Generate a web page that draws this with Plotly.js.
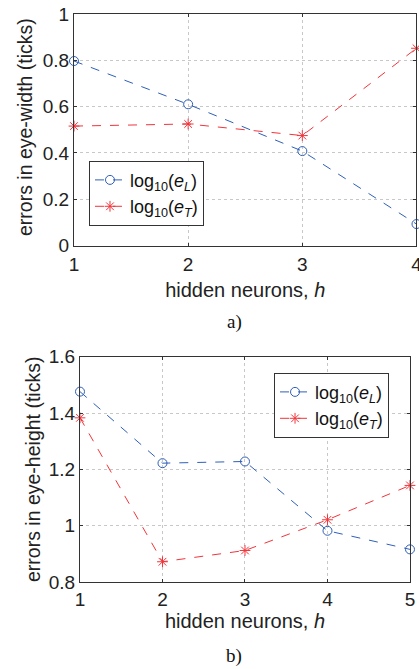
<!DOCTYPE html>
<html><head><meta charset="utf-8">
<script src="https://cdn.plot.ly/plotly-3.0.1.min.js"></script>
<style>html,body{margin:0;padding:0;background:#fff}#plot{width:419px;height:669px}</style>
</head><body><div id="plot"></div>
<script>
// Panel a) eye-width
const hA = [1, 2, 3, 4];
const eL_A = [0.797, 0.610, 0.408, 0.093];
const eT_A = [0.516, 0.525, 0.475, 0.852];
// Panel b) eye-height
const hB = [1, 2, 3, 4, 5];
const eL_B = [1.476, 1.222, 1.228, 0.982, 0.916];
const eT_B = [1.383, 0.872, 0.912, 1.021, 1.143];
const nameL = 'log<sub>10</sub>(<i>e<sub>L</sub></i>)';
const nameT = 'log<sub>10</sub>(<i>e<sub>T</sub></i>)';
const tickA_y = [0, 0.2, 0.4, 0.6, 0.8, 1];
const tickA_yText = ['0', '0.2', '0.4', '0.6', '0.8', '1'];
const tickB_y = [0.8, 1, 1.2, 1.4, 1.6];
const tickB_yText = ['0.8', '1', '1.2', '1.4', '1.6'];
const yTitleA = 'errors in eye-width (ticks)';
const yTitleB = 'errors in eye-height (ticks)';
const xTitle = 'hidden neurons, <i>h</i>';

const blue = '#2f5fb8', red = '#f0343a';
const font = 'Liberation Sans, Arial, sans-serif';

function tr(x, y, name, color, sym, xa, ya, leg) {
  return {x: x, y: y, name: name, type: 'scatter', mode: 'lines+markers',
    xaxis: xa, yaxis: ya, legend: leg,
    line: {color: color, width: 1, dash: 'dash'},
    marker: {symbol: sym, size: 9, color: color, line: {color: color, width: 1}},
    cliponaxis: false};
}
const data = [
  tr(hA, eL_A, nameL, blue, 'circle-open', 'x', 'y', 'legend'),
  tr(hA, eT_A, nameT, red, 'asterisk-open', 'x', 'y', 'legend'),
  tr(hB, eL_B, nameL, blue, 'circle-open', 'x2', 'y2', 'legend2'),
  tr(hB, eT_B, nameT, red, 'asterisk-open', 'x2', 'y2', 'legend2')
];
function ax(extra) {
  return Object.assign({
    showline: true, linecolor: '#333', linewidth: 1, mirror: 'ticks',
    ticks: 'inside', ticklen: 3, tickcolor: '#333',
    showgrid: true, gridcolor: '#c8c8c8', griddash: 'dot', gridwidth: 1,
    zeroline: false, ticklabeloverflow: 'allow',
    tickfont: {family: font, size: 19, color: '#222'}
  }, extra);
}
const xTitleFont = {family: font, size: 20, color: '#222'};
const yTitleFont = {family: font, size: 19.5, color: '#222'};
const layout = {
  width: 419, height: 669, margin: {l: 0, r: 0, t: 0, b: 0},
  paper_bgcolor: '#fff', plot_bgcolor: '#fff', showlegend: true,
  xaxis: ax({domain: [0.1766, 0.994], range: [1, 4], tickvals: hA, anchor: 'y', ticklabelstandoff: 2,
    title: {text: xTitle, font: xTitleFont, standoff: 8}}),
  yaxis: ax({domain: [0.6329, 0.9791], range: [0, 1], tickvals: tickA_y, ticktext: tickA_yText, anchor: 'x'}),
  xaxis2: ax({domain: [0.1909, 0.9785], range: [1, 5], tickvals: hB, anchor: 'y2', ticklabelstandoff: 0,
    title: {text: xTitle, font: xTitleFont, standoff: 4}}),
  yaxis2: ax({domain: [0.1300, 0.4668], range: [0.8, 1.6], tickvals: tickB_y, ticktext: tickB_yText, anchor: 'x2'}),
  legend: {x: 0.2124, y: 0.7598, xanchor: 'left', yanchor: 'top', bgcolor: '#fff',
    bordercolor: '#333', borderwidth: 1, font: {family: font, size: 18, color: '#111'}},
  legend2: {x: 0.654, y: 0.4429, xanchor: 'left', yanchor: 'top', bgcolor: '#fff',
    bordercolor: '#333', borderwidth: 1, font: {family: font, size: 18, color: '#111'}},
  annotations: [
    {text: yTitleA, xref: 'paper', yref: 'paper', x: 25 / 419, y: 1 - 127 / 669, textangle: -90,
      xanchor: 'center', yanchor: 'middle', showarrow: false, font: yTitleFont},
    {text: yTitleB, xref: 'paper', yref: 'paper', x: 33 / 419, y: 1 - 470 / 669, textangle: -90,
      xanchor: 'center', yanchor: 'middle', showarrow: false, font: yTitleFont},
    {text: 'a)', xref: 'paper', yref: 'paper', x: 0.5585, y: 1 - 322 / 669, yanchor: 'middle', showarrow: false,
      font: {family: 'Liberation Serif, Times New Roman, serif', size: 19, color: '#111'}},
    {text: 'b)', xref: 'paper', yref: 'paper', x: 0.5585, y: 1 - 656 / 669, yanchor: 'middle', showarrow: false,
      font: {family: 'Liberation Serif, Times New Roman, serif', size: 19, color: '#111'}}
  ]
};
Plotly.newPlot('plot', data, layout, {displayModeBar: false, staticPlot: true});
</script></body></html>
